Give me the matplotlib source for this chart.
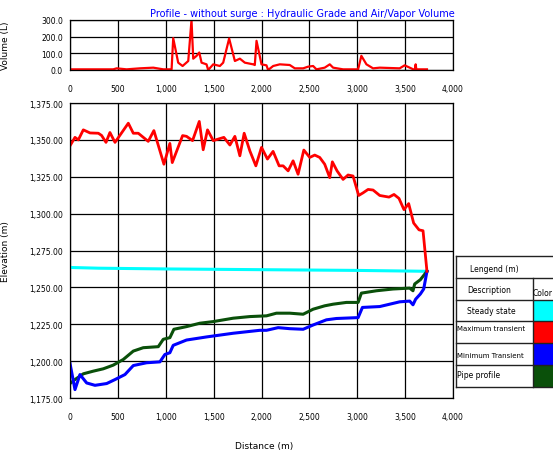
import matplotlib
matplotlib.use("Agg")
import matplotlib.pyplot as plt
from matplotlib.patches import Rectangle
from matplotlib.lines import Line2D
from matplotlib.ticker import FuncFormatter

# Air/vapor volume along the profile (L)
vol_x = [0, 452, 487, 591, 730, 870, 974, 1061, 1078, 1130, 1176, 1235, 1269, 1287,
         1322, 1350, 1374, 1426, 1443, 1496, 1565, 1600, 1662, 1722, 1774, 1826, 1913,
         1930, 1948, 2000, 2052, 2069, 2122, 2191, 2295, 2348, 2435, 2487, 2539, 2574,
         2660, 2713, 2748, 2852, 3009, 3043, 3096, 3165, 3235, 3443, 3495, 3548, 3600,
         3610, 3617, 3728]
vol_y = [4, 4, 10, 4, 10, 14, 4, 4, 191, 44, 24, 54, 300, 68,
         85, 105, 44, 34, 0, 34, 24, 44, 189, 54, 68, 44, 34,
         30, 175, 34, 28, 0, 24, 34, 30, 10, 10, 20, 24, 4,
         14, 34, 14, 4, 4, 85, 34, 10, 14, 10, 28, 14, 0,
         34, 4, 4]

# Maximum transient hydraulic grade (m)
max_x = [0, 52, 87, 139, 209, 296, 330, 376, 417, 470, 609, 661, 713, 817, 876, 981,
         1043, 1068, 1176, 1217, 1280, 1350, 1391, 1436, 1496, 1607, 1670, 1722, 1774,
         1819, 1878, 1941, 2000, 2062, 2121, 2184, 2226, 2278, 2330, 2382, 2442, 2504,
         2556, 2608, 2660, 2713, 2740, 2789, 2852, 2904, 2956, 3015, 3061, 3113, 3165,
         3235, 3332, 3384, 3436, 3488, 3537, 3589, 3645, 3687, 3728]
max_y = [1346.0, 1351.7, 1350.0, 1356.8, 1354.7, 1354.5, 1353.0, 1348.3, 1355.0, 1348.3,
         1361.3, 1354.5, 1354.5, 1349.0, 1356.3, 1333.5, 1347.6, 1334.6, 1352.9, 1352.4,
         1349.5, 1362.5, 1343.3, 1356.8, 1349.5, 1351.7, 1346.5, 1352.4, 1339.2, 1354.5,
         1342.6, 1332.4, 1344.9, 1337.0, 1342.2, 1332.4, 1332.4, 1329.0, 1335.8, 1326.7,
         1343.1, 1338.1, 1339.7, 1338.1, 1333.5, 1324.4, 1335.1, 1329.0, 1323.2, 1326.2,
         1325.5, 1312.3, 1314.1, 1316.4, 1316.0, 1312.3, 1311.2, 1313.0, 1310.3, 1302.7,
         1306.8, 1293.6, 1289.0, 1288.4, 1260.9]

# Steady state hydraulic grade (m)
ss_x = [0, 300, 1000, 2000, 3000, 3728]
ss_y = [1263.5, 1263.0, 1262.5, 1262.0, 1261.5, 1260.9]

# Minimum transient hydraulic grade (m)
min_x = [0, 52, 104, 174, 261, 383, 470, 574, 661, 800, 939, 991, 1043, 1078, 1217,
         1426, 1704, 1983, 2052, 2174, 2295, 2435, 2539, 2678, 2782, 3009, 3054, 3235,
         3443, 3548, 3582, 3610, 3659, 3694, 3728]
min_y = [1198.4, 1180.7, 1190.9, 1185.2, 1183.6, 1184.8, 1187.5, 1190.9, 1197.0, 1198.9,
         1199.5, 1204.5, 1205.7, 1210.7, 1214.3, 1216.4, 1218.9, 1220.9, 1220.9, 1222.7,
         1222.0, 1221.6, 1224.5, 1228.0, 1228.9, 1229.5, 1236.4, 1237.0, 1240.2, 1240.7,
         1238.2, 1242.0, 1245.5, 1248.9, 1260.9]

# Pipe profile elevation (m)
pipe_x = [0, 52, 139, 243, 348, 452, 556, 661, 765, 922, 974, 1043, 1085, 1217, 1356,
          1496, 1704, 1878, 2052, 2156, 2295, 2435, 2539, 2660, 2748, 2887, 3009, 3043,
          3200, 3374, 3548, 3582, 3600, 3659, 3728]
pipe_y = [1184.8, 1187.5, 1191.4, 1193.2, 1194.8, 1197.3, 1201.1, 1206.8, 1209.1, 1209.8,
          1214.8, 1215.9, 1221.6, 1223.4, 1225.7, 1226.8, 1229.1, 1230.2, 1230.7, 1232.5,
          1232.5, 1231.8, 1235.2, 1237.5, 1238.6, 1239.8, 1239.8, 1246.1, 1247.7, 1248.9,
          1249.5, 1247.7, 1252.3, 1255.2, 1260.9]

x_ticks = [0, 500, 1000, 1500, 2000, 2500, 3000, 3500, 4000]
vol_ticks = [0, 100, 200, 300]
elev_ticks = [1175, 1200, 1225, 1250, 1275, 1300, 1325, 1350, 1375]

legend_labels = ["Steady state", "Maximum transient", "Minimum Transient", "Pipe profile"]
legend_colors = ["#00ffff", "#ff0000", "#0000ff", "#0a500a"]

W, H = 553, 452
fig = plt.figure(figsize=(W / 100, H / 100), dpi=100)
fig.patch.set_facecolor("white")

TICK_FS = 5.5
LABEL_FS = 6.5


def px_box(left, top, right, bottom):
    return [left / W, 1 - bottom / H, (right - left) / W, (bottom - top) / H]


def style_axes(ax):
    ax.grid(True, color="black", linewidth=0.9)
    ax.set_axisbelow(True)
    for s in ax.spines.values():
        s.set_color("black")
        s.set_linewidth(0.9)
    ax.tick_params(length=0, labelsize=TICK_FS, colors="black")
    ax.xaxis.set_major_formatter(FuncFormatter(lambda v, p: f"{v:,.0f}"))
    ax.set_xlim(0, 4000)
    ax.set_xticks(x_ticks)


# Volume panel
ax1 = fig.add_axes(px_box(70, 21, 453, 71))
style_axes(ax1)
ax1.plot(vol_x, vol_y, color="#ff0000", lw=1.6, clip_on=True)
ax1.set_ylim(0, 300)
ax1.set_yticks(vol_ticks)
ax1.yaxis.set_major_formatter(FuncFormatter(lambda v, p: f"{v:.1f}"))
ax1.tick_params(axis="x", pad=10)
ax1.tick_params(axis="y", pad=5)
ax1.set_ylabel("Volume (L)", fontsize=LABEL_FS, labelpad=12)
ax1.yaxis.set_label_coords(-60 / 383, 0.5)

# Elevation panel
ax2 = fig.add_axes(px_box(70, 104, 453, 399))
style_axes(ax2)
ax2.plot(ss_x, ss_y, color="#00ffff", lw=2.2)
ax2.plot(pipe_x, pipe_y, color="#0a500a", lw=2.2)
ax2.plot(min_x, min_y, color="#0000ff", lw=2.2)
ax2.plot(max_x, max_y, color="#ff0000", lw=2.0)
ax2.set_ylim(1175, 1375)
ax2.set_yticks(elev_ticks)
ax2.yaxis.set_major_formatter(FuncFormatter(lambda v, p: f"{v:,.2f}"))
ax2.tick_params(axis="x", pad=10)
ax2.tick_params(axis="y", pad=5)
ax2.set_ylabel("Elevation (m)", fontsize=LABEL_FS)
ax2.yaxis.set_label_coords(-60 / 383, 0.5)
ax2.set_xlabel("Distance (m)", fontsize=LABEL_FS)
ax2.xaxis.set_label_coords(0.508, -43 / 295)

# Title
fig.text(455 / W, 1 - 14 / H, "Profile - without surge : Hydraulic Grade and Air/Vapor Volume",
         color="#0000ff", fontsize=7, ha="right", va="center")

# Legend table drawn in figure pixels
def fx(x):
    return x / W


def fy(y):
    return 1 - y / H


def hline(x0, x1, y):
    fig.add_artist(Line2D([fx(x0), fx(x1)], [fy(y), fy(y)], color="#222222", lw=1.0))


def vline(x, y0, y1):
    fig.add_artist(Line2D([fx(x), fx(x)], [fy(y0), fy(y1)], color="#222222", lw=1.0))


tl, tr, split = 456, 560, 533
rows = [257, 279, 301, 322, 344, 366, 388]

for i, c in enumerate(legend_colors):
    fig.add_artist(Rectangle((fx(split), fy(rows[i + 3])), fx(tr) - fx(split),
                             fy(rows[i + 2]) - fy(rows[i + 3]), facecolor=c,
                             edgecolor="none", transform=fig.transFigure))
for y in rows:
    hline(tl, tr, y)
vline(tl, rows[0], rows[-1])
vline(split, rows[1], rows[-1])

fig.text(fx(494), fy(269), "Lengend (m)", fontsize=5.5, ha="center", va="center")
fig.text(fx(489), fy(291), "Description", fontsize=5.5, ha="center", va="center")
fig.text(fx(543), fy(294), "Color", fontsize=5.5, ha="center", va="center")
fig.text(fx(491), fy(311), legend_labels[0], fontsize=5.5, ha="center", va="center")
fig.text(fx(457), fy(329), legend_labels[1], fontsize=5, ha="left", va="center")
fig.text(fx(457), fy(356), legend_labels[2], fontsize=5, ha="left", va="center")
fig.text(fx(457), fy(376), legend_labels[3], fontsize=5.5, ha="left", va="center")

fig.savefig("out.png", dpi=100, facecolor="white")
